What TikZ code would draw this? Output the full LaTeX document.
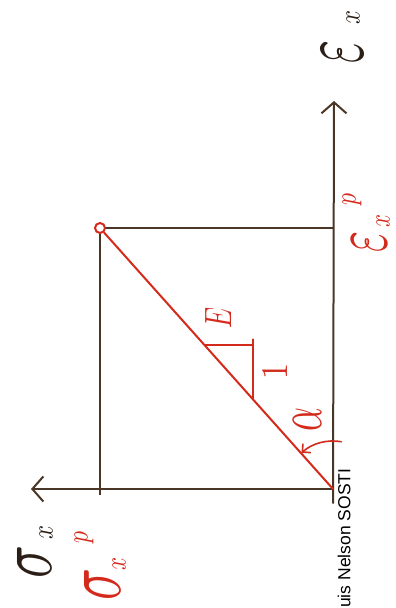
\documentclass[tikz,border=0pt]{standalone}
\usepackage{graphicx}
\usepackage{fontspec}
\newfontfamily\signfont{Liberation Sans}
\usetikzlibrary{arrows.meta,calc}
\definecolor{ink}{HTML}{4A3626}
\definecolor{darkink}{HTML}{2A1E16}
\definecolor{redink}{HTML}{D42A1C}
\begin{document}
\begin{tikzpicture}[x=1pt,y=1pt,
  axis/.style={draw=ink, line width=2pt, line cap=round},
  guide/.style={draw=ink, line width=1.4pt},
  redline/.style={draw=redink, line width=2pt, line cap=round},
  barb/.style={-{Straight Barb[length=11pt,width=25pt]}},
  hand/.style={rotate=90, inner sep=1pt},
]
\useasboundingbox (0,0) rectangle (396,608);

% axes
\coordinate (O) at (333,119);
\coordinate (Ytip) at (334,507);
\coordinate (Ybot) at (333,105);
\coordinate (Xtip) at (31,119);
\draw[axis, barb] (Ybot) -- (Ytip);
\draw[axis, barb] (O) -- (Xtip);

% yield point and guides
\node[circle, draw=redink, line width=2pt, minimum size=10pt, inner sep=0pt] (P) at (100,380) {};
\coordinate (Pfoot) at (98,113);
\draw[guide] (P) -- (P |- Pfoot);
\draw[guide] (P) -- (P -| O);

% red diagonal
\draw[redline] (O) -- (P);

% slope triangle
\coordinate (A) at ($(O)!0.55!(P)$);
\coordinate (B) at ($(O)!0.345!(P)$);
\coordinate (C) at (B |- A);
\draw[redline, line width=2pt] (A) -- ($(C)+(0.5,0)$);
\draw[redline, line width=2pt] ($(C)+(0,6)$) -- (B);
\node[hand, text=redink] (Elab) at (218,290) {\resizebox{21pt}{26pt}{$E$}};
\node[hand, text=redink] (onelab) at (275,236) {\resizebox{16pt}{25pt}{1}};

% angle
\draw[redline, line width=1.6pt, -{Straight Barb[length=6pt,width=12pt]}]
  ($(O)+(80:48)$) arc[start angle=80, end angle=131, radius=48];
\node[hand, text=redink] (alab) at (307,188) {\resizebox{24pt}{28pt}{$\alpha$}};

% epsilon axis label (black)
\node[hand, text=darkink] (epsA) at (342,556) {\resizebox{23pt}{40pt}{$\varepsilon$}};
\node[hand, text=darkink] (epsAx) at (353,590) {\resizebox{14pt}{13pt}{$x$}};

% epsilon yield label (red)
\node[hand, text=redink] (epsY) at (369,366) {\resizebox{21pt}{34pt}{$\varepsilon$}};
\node[hand, text=redink] (epsYx) at (383,387) {\resizebox{13pt}{13pt}{$x$}};
\node[hand, text=redink] (epsYp) at (352,408) {\resizebox{12pt}{13pt}{$p$}};

% sigma axis label (black)
\node[hand, text=darkink] (sigA) at (34,46) {\resizebox{33pt}{34pt}{$\sigma$}};
\node[hand, text=darkink] (sigAx) at (46,75) {\resizebox{14pt}{13pt}{$x$}};

% sigma yield label (red)
\node[hand, text=redink] (sigY) at (102,24) {\resizebox{32pt}{36pt}{$\sigma$}};
\node[hand, text=redink] (sigYx) at (119,44) {\resizebox{13pt}{13pt}{$x$}};
\node[hand, text=redink] (sigYp) at (84,70) {\resizebox{12pt}{13pt}{$p$}};

% signature
\node[rotate=90, inner sep=0pt, anchor=west, font=\signfont\fontsize{17.5}{19}\selectfont] (sig) at (344,0) {uis Nelson SOSTI};
\end{tikzpicture}
\end{document}
